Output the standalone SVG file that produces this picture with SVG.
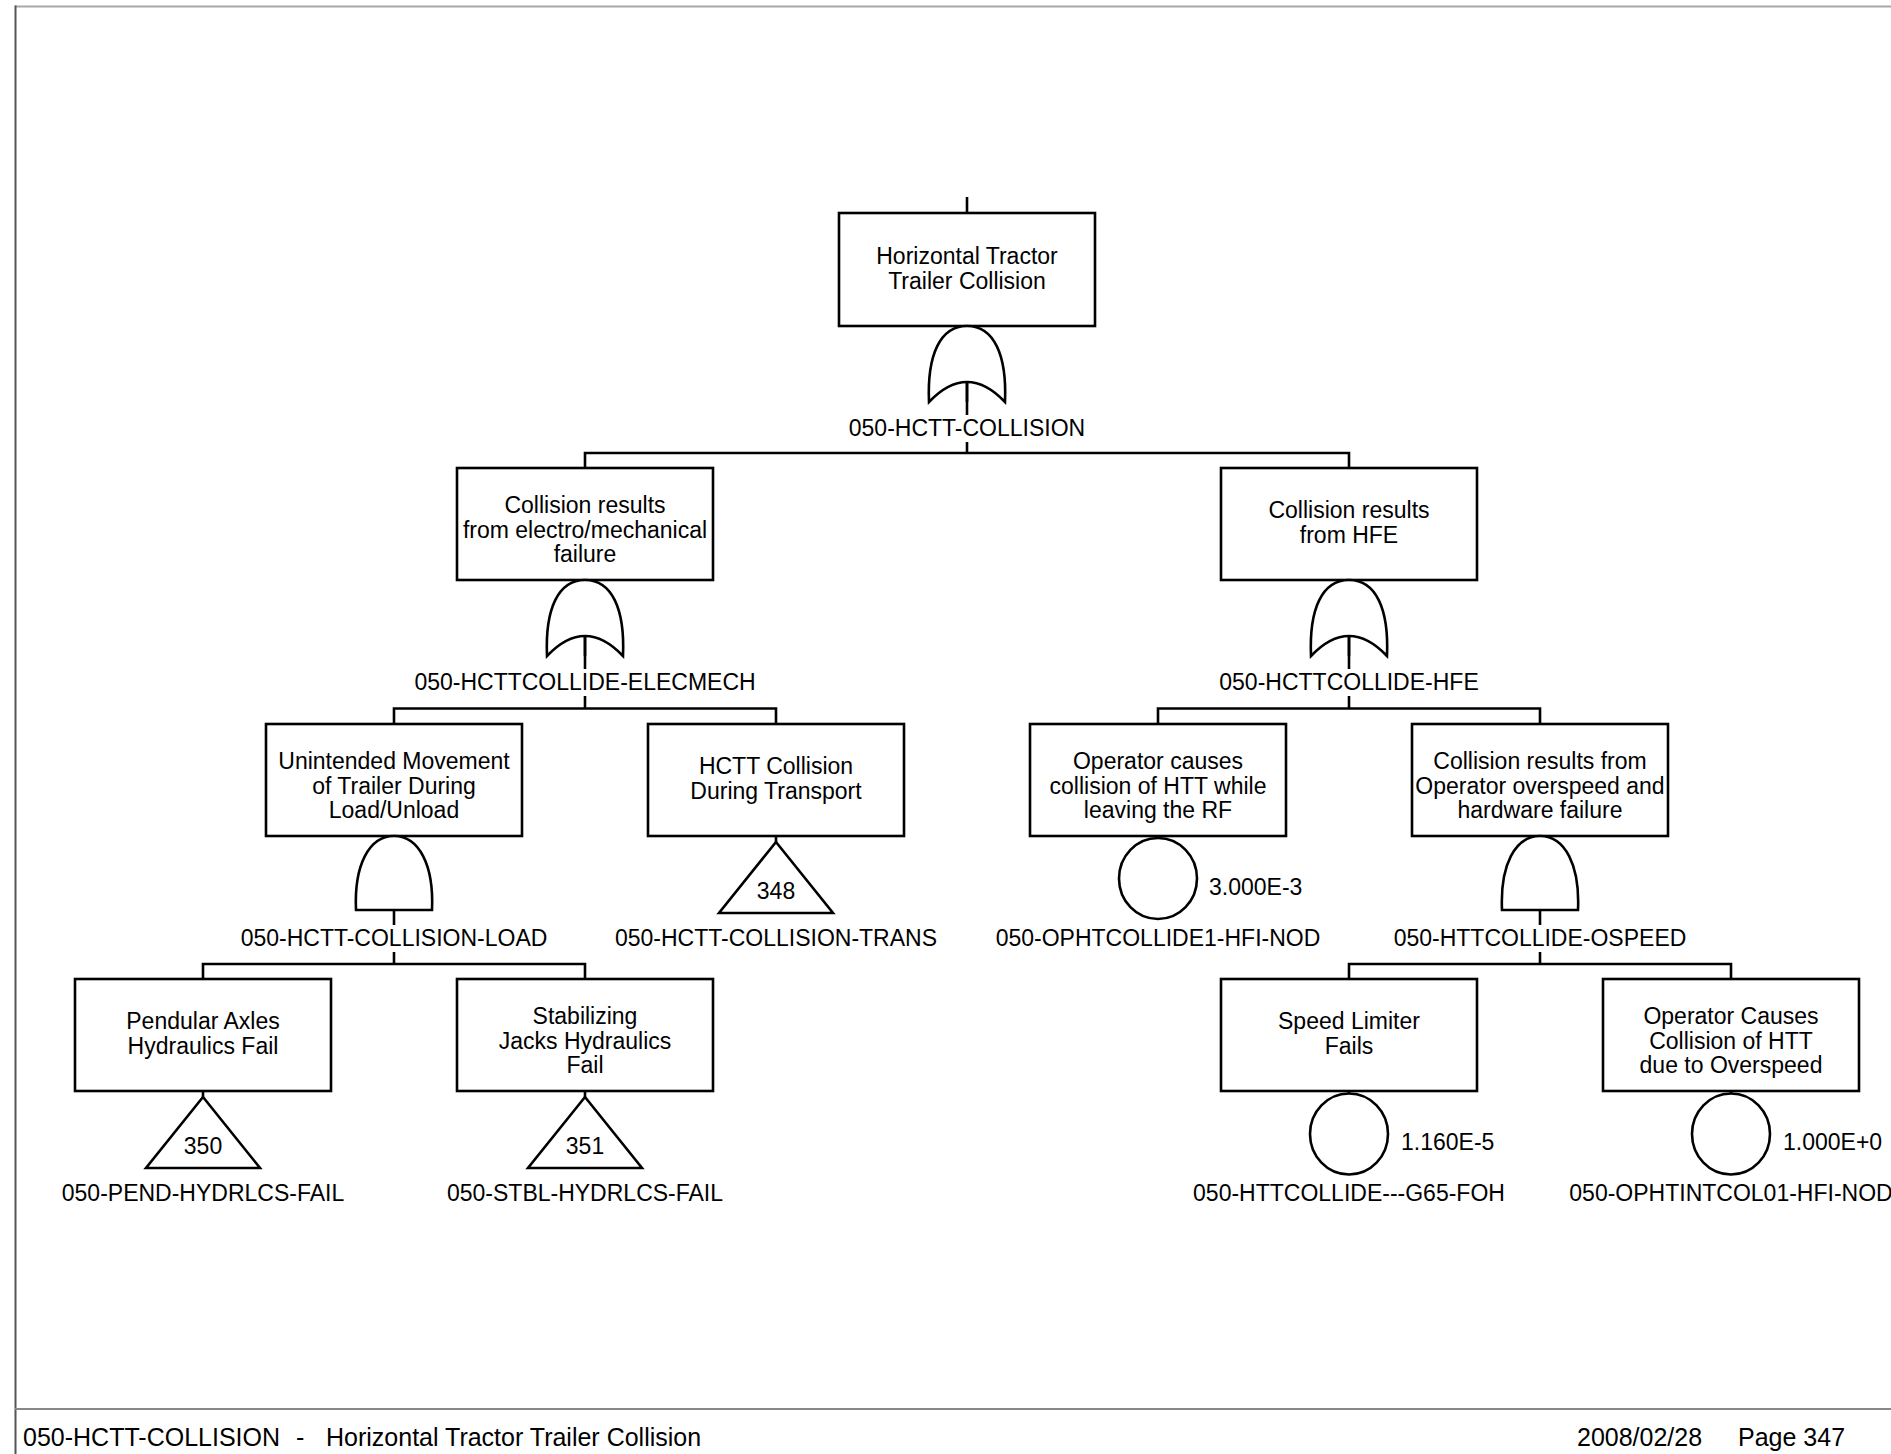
<svg xmlns="http://www.w3.org/2000/svg" width="1891" height="1454" viewBox="0 0 1891 1454">
<style>
.box{fill:#fff;stroke:#000;stroke-width:2.6}
.ln{stroke:#000;stroke-width:2.6;fill:none}
.g{fill:#fff;stroke:#000;stroke-width:2.6}
.t{font-family:"Liberation Sans",Arial,sans-serif;font-size:23px;text-anchor:middle;fill:#000}
.v{font-family:"Liberation Sans",Arial,sans-serif;font-size:23px;text-anchor:start;fill:#000}
.f{font-family:"Liberation Sans",Arial,sans-serif;font-size:25px;fill:#000}
</style>
<defs>
<path id="or" d="M -38,76 C -40,29 -27,0 0,0 C 27,0 40,29 38,76 Q 0,36 -38,76 Z"/>
<path id="and" d="M -38,74 C -40,29 -25,0 0,0 C 25,0 40,29 38,74 Z"/>
<path id="tri" d="M 0,0 L 57,71 L -57,71 Z"/>
</defs>
<rect width="1891" height="1454" fill="#fff"/>
<g id="frame">
<line x1="15" y1="6.5" x2="1891" y2="6.5" stroke="#a8a8a8" stroke-width="2"/>
<line x1="15.5" y1="5.5" x2="15.5" y2="1454" stroke="#555" stroke-width="2"/>
<line x1="15" y1="1409" x2="1891" y2="1409" stroke="#888" stroke-width="2"/>
</g>
<g id="connectors" class="ln">
<line x1="967" y1="197" x2="967" y2="213"/>
<line x1="967" y1="382" x2="967" y2="415"/>
<line x1="967" y1="442" x2="967" y2="453"/>
<polyline points="585,468 585,453 1349,453 1349,468"/>
<line x1="585" y1="636" x2="585" y2="669"/>
<line x1="585" y1="696" x2="585" y2="708.5"/>
<line x1="1349" y1="636" x2="1349" y2="669"/>
<line x1="1349" y1="696" x2="1349" y2="708.5"/>
<polyline points="394,724 394,708.5 776,708.5 776,724"/>
<polyline points="1158,724 1158,708.5 1540,708.5 1540,724"/>
<line x1="776" y1="836" x2="776" y2="842"/>
<line x1="1158" y1="836" x2="1158" y2="839"/>
<line x1="394" y1="910" x2="394" y2="925"/>
<line x1="394" y1="952" x2="394" y2="964"/>
<line x1="1540" y1="910" x2="1540" y2="925"/>
<line x1="1540" y1="952" x2="1540" y2="964"/>
<polyline points="203,979 203,964 585,964 585,979"/>
<polyline points="1349,979 1349,964 1731,964 1731,979"/>
<line x1="203" y1="1091" x2="203" y2="1097"/>
<line x1="585" y1="1091" x2="585" y2="1097"/>
<line x1="1349" y1="1091" x2="1349" y2="1094"/>
<line x1="1731" y1="1091" x2="1731" y2="1094"/>
</g>
<g id="n-top">
<rect class="box" x="839" y="213" width="256" height="113"/>
<text class="t" x="967" y="263.5">Horizontal Tractor</text>
<text class="t" x="967" y="288.5">Trailer Collision</text>
<use href="#or" class="g" x="967" y="326"/>
<line class="ln" x1="967" y1="382" x2="967" y2="402"/>
<text class="t" x="967" y="436">050-HCTT-COLLISION</text>
</g>
<g id="n-elecmech">
<rect class="box" x="457" y="468" width="256" height="112"/>
<text class="t" x="585" y="513">Collision results</text>
<text class="t" x="585" y="537.5">from electro/mechanical</text>
<text class="t" x="585" y="562">failure</text>
<use href="#or" class="g" x="585" y="580"/>
<line class="ln" x1="585" y1="636" x2="585" y2="656"/>
<text class="t" x="585" y="690">050-HCTTCOLLIDE-ELECMECH</text>
</g>
<g id="n-hfe">
<rect class="box" x="1221" y="468" width="256" height="112"/>
<text class="t" x="1349" y="518">Collision results</text>
<text class="t" x="1349" y="543">from HFE</text>
<use href="#or" class="g" x="1349" y="580"/>
<line class="ln" x1="1349" y1="636" x2="1349" y2="656"/>
<text class="t" x="1349" y="690">050-HCTTCOLLIDE-HFE</text>
</g>
<g id="n-load">
<rect class="box" x="266" y="724" width="256" height="112"/>
<text class="t" x="394" y="769">Unintended Movement</text>
<text class="t" x="394" y="793.5">of Trailer During</text>
<text class="t" x="394" y="818">Load/Unload</text>
<use href="#and" class="g" x="394" y="836"/>
<text class="t" x="394" y="946">050-HCTT-COLLISION-LOAD</text>
</g>
<g id="n-trans">
<rect class="box" x="648" y="724" width="256" height="112"/>
<text class="t" x="776" y="774">HCTT Collision</text>
<text class="t" x="776" y="799">During Transport</text>
<use href="#tri" class="g" x="776" y="842"/>
<text class="t" x="776" y="898.5">348</text>
<text class="t" x="776" y="946">050-HCTT-COLLISION-TRANS</text>
</g>
<g id="n-ophtcollide1">
<rect class="box" x="1030" y="724" width="256" height="112"/>
<text class="t" x="1158" y="769">Operator causes</text>
<text class="t" x="1158" y="793.5">collision of HTT while</text>
<text class="t" x="1158" y="818">leaving the RF</text>
<ellipse class="g" cx="1158" cy="878.5" rx="39" ry="40.5"/>
<text class="v" x="1209" y="895">3.000E-3</text>
<text class="t" x="1158" y="946">050-OPHTCOLLIDE1-HFI-NOD</text>
</g>
<g id="n-ospeed">
<rect class="box" x="1412" y="724" width="256" height="112"/>
<text class="t" x="1540" y="769">Collision results from</text>
<text class="t" x="1540" y="793.5">Operator overspeed and</text>
<text class="t" x="1540" y="818">hardware failure</text>
<use href="#and" class="g" x="1540" y="836"/>
<text class="t" x="1540" y="946">050-HTTCOLLIDE-OSPEED</text>
</g>
<g id="n-pend">
<rect class="box" x="75" y="979" width="256" height="112"/>
<text class="t" x="203" y="1029">Pendular Axles</text>
<text class="t" x="203" y="1054">Hydraulics Fail</text>
<use href="#tri" class="g" x="203" y="1097"/>
<text class="t" x="203" y="1153.5">350</text>
<text class="t" x="203" y="1201">050-PEND-HYDRLCS-FAIL</text>
</g>
<g id="n-stbl">
<rect class="box" x="457" y="979" width="256" height="112"/>
<text class="t" x="585" y="1024">Stabilizing</text>
<text class="t" x="585" y="1048.5">Jacks Hydraulics</text>
<text class="t" x="585" y="1073">Fail</text>
<use href="#tri" class="g" x="585" y="1097"/>
<text class="t" x="585" y="1153.5">351</text>
<text class="t" x="585" y="1201">050-STBL-HYDRLCS-FAIL</text>
</g>
<g id="n-g65">
<rect class="box" x="1221" y="979" width="256" height="112"/>
<text class="t" x="1349" y="1029">Speed Limiter</text>
<text class="t" x="1349" y="1054">Fails</text>
<ellipse class="g" cx="1349" cy="1134" rx="39" ry="40.5"/>
<text class="v" x="1401" y="1150">1.160E-5</text>
<text class="t" x="1349" y="1201">050-HTTCOLLIDE---G65-FOH</text>
</g>
<g id="n-ophtintcol01">
<rect class="box" x="1603" y="979" width="256" height="112"/>
<text class="t" x="1731" y="1024">Operator Causes</text>
<text class="t" x="1731" y="1048.5">Collision of HTT</text>
<text class="t" x="1731" y="1073">due to Overspeed</text>
<ellipse class="g" cx="1731" cy="1134" rx="39" ry="40.5"/>
<text class="v" x="1783" y="1150">1.000E+0</text>
<text class="t" x="1731" y="1201">050-OPHTINTCOL01-HFI-NOD</text>
</g>
<g id="footer">
<text class="f" y="1446"><tspan x="23">050-HCTT-COLLISION</tspan><tspan x="296">-</tspan><tspan x="326">Horizontal Tractor Trailer Collision</tspan></text>
<text class="f" x="1577" y="1446">2008/02/28</text>
<text class="f" x="1738" y="1446">Page 347</text>
</g>
</svg>
